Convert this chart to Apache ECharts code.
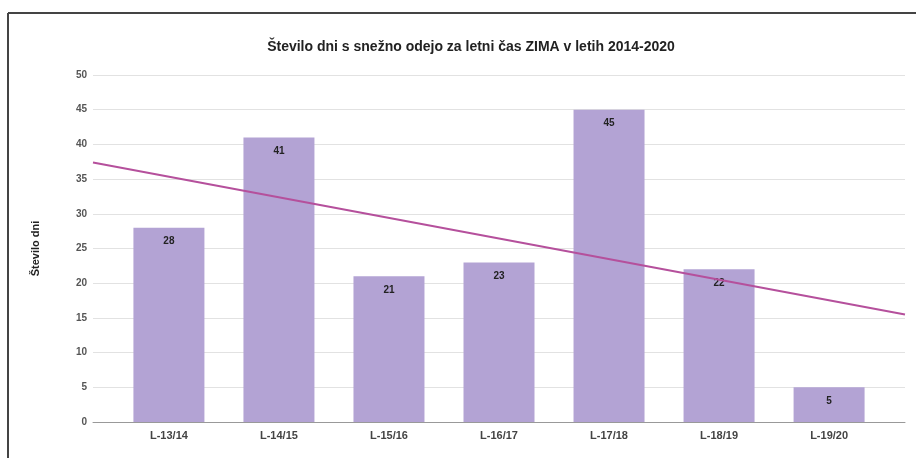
<!DOCTYPE html>
<html>
<head>
<meta charset="utf-8">
<script src="https://cdn.jsdelivr.net/npm/echarts@6/dist/echarts.min.js"></script>
<style>
html,body{margin:0;padding:0;background:#fff;}
#chart{width:916px;height:458px;}
</style>
</head>
<body>
<div id="chart"></div>
<script>
const categories = ['L-13/14','L-14/15','L-15/16','L-16/17','L-17/18','L-18/19','L-19/20'];
const positions = [1,2,3,4,5,6,7];
const values = [28,41,21,23,45,22,5];
const trendX = [0.31, 7.69];
const trendY = [37.4, 15.5];
const yTicks = [0,5,10,15,20,25,30,35,40,45,50];

const chart = echarts.init(document.getElementById('chart'));
const font = 'Liberation Sans, Arial, sans-serif';
chart.setOption({
  animation: false,
  title: {
    text: 'Število dni s snežno odejo za letni čas ZIMA v letih 2014-2020',
    left: 466, top: 35, textAlign: 'center',
    textStyle: {fontFamily: font, fontSize: 14, fontWeight: 'bold', color: '#222'}
  },
  grid: {left: 93, right: 11, top: 75, bottom: 36},
  xAxis: {
    type: 'value', min: trendX[0], max: trendX[1],
    splitLine: {show: false},
    axisLine: {show: true, lineStyle: {color: '#999', width: 1}},
    axisTick: {show: false},
    axisLabel: {
      customValues: positions,
      formatter: v => categories[Math.round(v) - 1] || '',
      margin: 8,
      fontFamily: font, fontSize: 11, fontWeight: 'bold', color: '#444'
    }
  },
  yAxis: {
    type: 'value', min: 0, max: 50, interval: 5,
    name: 'Število dni', nameLocation: 'middle', nameGap: 52, nameRotate: 90,
    nameTextStyle: {fontFamily: font, fontSize: 11, fontWeight: 'bold', color: '#222'},
    axisLine: {show: false}, axisTick: {show: false},
    axisLabel: {margin: 6, fontFamily: font, fontSize: 10, fontWeight: 'bold', color: '#555',
      formatter: v => yTicks.includes(v) ? String(v) : ''},
    splitLine: {lineStyle: {color: '#e2e2e2', width: 1}}
  },
  series: [
    {
      type: 'bar',
      data: positions.map((p, i) => [p, values[i]]),
      barWidth: 71,
      itemStyle: {color: '#b3a3d4'},
      label: {show: true, position: 'insideTop', distance: 9,
        fontFamily: font, fontSize: 10, fontWeight: 'bold', color: '#222'}
    },
    {
      type: 'line',
      data: trendX.map((x, i) => [x, trendY[i]]),
      symbol: 'none',
      lineStyle: {color: '#b5509c', width: 2},
      z: 5
    }
  ],
  graphic: [
    {type: 'line', shape: {x1: 8, y1: 13, x2: 916, y2: 13}, style: {stroke: '#444', lineWidth: 2}},
    {type: 'line', shape: {x1: 8, y1: 13, x2: 8, y2: 458}, style: {stroke: '#444', lineWidth: 2}}
  ]
});
</script>
</body>
</html>
